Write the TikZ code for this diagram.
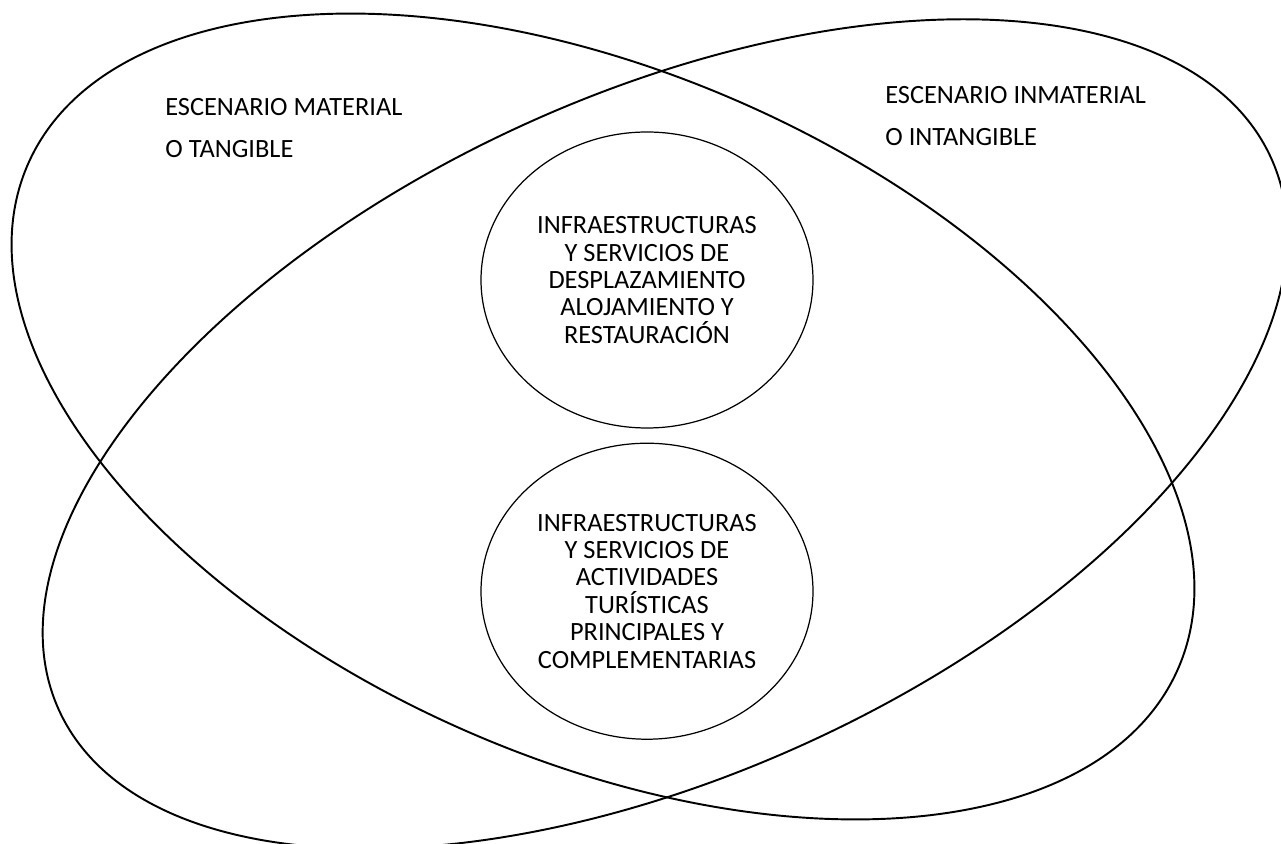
\documentclass[tikz,border=0pt]{standalone}
\usepackage{fontspec}
\setmainfont{Carlito}
\usepackage{tikz}
\usetikzlibrary{positioning, shapes.geometric}

\begin{document}
\begin{tikzpicture}[
    escenario/.style={line width=1.1pt, black},
    oval/.style={
        draw, ellipse,
        line width=0.7pt,
        inner sep=0pt,
        minimum width=6.64cm,
        minimum height=5.92cm,
        align=center,
        font=\fontsize{15}{15.6}\selectfont
    },
    rotulo/.style={
        anchor=west,
        inner sep=0pt,
        font=\fontsize{15}{15.6}\selectfont
    }
]
\useasboundingbox (0,0) rectangle (25.62,16.88);

% ===== Escenarios (2 elipses inclinadas) =====
\draw[escenario] (12.06,8.55) ellipse [x radius=12.56cm, y radius=6.86cm, rotate=-23.7]; % material
\draw[escenario] (13.30,8.20) ellipse [x radius=13.32cm, y radius=6.80cm, rotate=24.5]; % inmaterial

% ===== Óvalos centrales =====
\node[oval] (desplazamiento) at (12.94,11.28)
    {INFRAESTRUCTURAS\\Y SERVICIOS DE\\DESPLAZAMIENTO\\ALOJAMIENTO Y\\RESTAURACIÓN};
\node[oval, below=0.28cm of desplazamiento] (actividades)
    {INFRAESTRUCTURAS\\Y SERVICIOS DE\\ACTIVIDADES\\TURÍSTICAS\\PRINCIPALES Y\\COMPLEMENTARIAS};

% ===== Rótulos =====
\node[rotulo] (material) at (3.30,14.74) {ESCENARIO MATERIAL};
\node[rotulo, below=0.84cm of material.west, anchor=west] (tangible) {O TANGIBLE};

\node[rotulo] (inmaterial) at (17.70,14.98) {ESCENARIO INMATERIAL};
\node[rotulo, below=0.84cm of inmaterial.west, anchor=west] (intangible) {O INTANGIBLE};

\end{tikzpicture}
\end{document}
